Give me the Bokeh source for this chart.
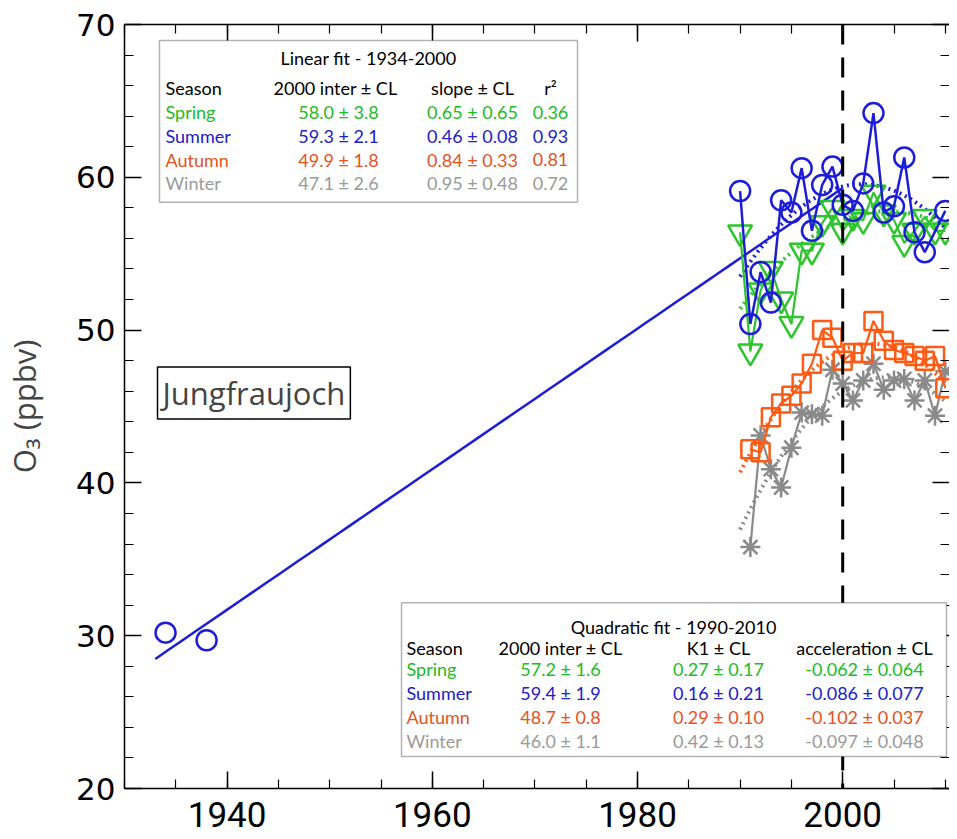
import numpy as np
from bokeh.plotting import figure
from bokeh.models import (Label, BoxAnnotation, Span, LinearAxis, Range1d,
                          SingleIntervalTicker, CustomJSTickFormatter)
from bokeh.embed import file_html
from bokeh.resources import INLINE

# ---------------- data ----------------
early_years = [1934, 1938]
summer_early = [30.2, 29.7]

summer_years = [1990, 1991, 1992, 1993, 1994, 1995, 1996, 1997, 1998, 1999, 2000,
                2001, 2002, 2003, 2004, 2005, 2006, 2007, 2008, 2010]
summer = [59.1, 50.4, 53.8, 51.8, 58.5, 57.7, 60.6, 56.5, 59.5, 60.7, 58.2,
          57.8, 59.6, 64.2, 57.7, 58.1, 61.3, 56.4, 55.1, 57.8]

spring_years = list(range(1990, 2011))
spring = [56.4, 48.6, 52.6, 54.0, 52.0, 50.4, 55.2, 55.2, 57.0, 58.0, 56.5,
          57.4, 57.2, 59.0, 57.7, 57.2, 55.7, 56.5, 57.4, 56.5, 56.5]

autumn_years = list(range(1991, 2011))
autumn = [42.2, 42.0, 44.3, 45.2, 45.7, 46.5, 47.8, 50.0, 49.5, 48.0,
          48.5, 48.5, 50.6, 49.3, 48.7, 48.5, 48.3, 48.0, 48.3, 46.2]

winter_years = list(range(1991, 2011))
winter = [35.8, 43.1, 40.9, 39.7, 42.3, 44.6, 44.5, 44.4, 47.4, 46.5,
          45.4, 46.7, 47.8, 46.1, 46.7, 46.8, 45.4, 46.7, 44.4, 47.3]

seasons = ["Spring", "Summer", "Autumn", "Winter"]
lin_inter = ["58.0 ± 3.8", "59.3 ± 2.1", "49.9 ± 1.8", "47.1 ± 2.6"]
lin_slope = ["0.65 ± 0.65", "0.46 ± 0.08", "0.84 ± 0.33", "0.95 ± 0.48"]
lin_r2 = ["0.36", "0.93", "0.81", "0.72"]
quad_inter = ["57.2 ± 1.6", "59.4 ± 1.9", "48.7 ± 0.8", "46.0 ± 1.1"]
quad_k1 = ["0.27 ± 0.17", "0.16 ± 0.21", "0.29 ± 0.10", "0.42 ± 0.13"]
quad_acc = ["-0.062 ± 0.064", "-0.086 ± 0.077", "-0.102 ± 0.037", "-0.097 ± 0.048"]

# fit parameters (from the tables)
lin_summer_i, lin_summer_s = 59.3, 0.46
q_i = [57.2, 59.4, 48.7, 46.0]
q_k1 = [0.27, 0.16, 0.29, 0.42]
q_acc = [-0.062, -0.086, -0.102, -0.097]

GREEN = "#2cc52c"
BLUE = "#1d1dd8"
ORANGE = "#ff5a14"
GRAY = "#8a8a8a"
T_GREEN = "#22bb22"
T_BLUE = "#2020c8"
T_ORANGE = "#e6521c"
T_GRAY = "#9a9a9a"
colors = [GREEN, BLUE, ORANGE, GRAY]
tcolors = [T_GREEN, T_BLUE, T_ORANGE, T_GRAY]

# ---------------- figure ----------------
PX_L, PX_R, PY_T, PY_B = 122.0, 947.0, 24.0, 789.0
X0 = 1930.0
X1 = X0 + (PX_R - PX_L) / 10.26
Y0, Y1 = 20.0, 70.0
p = figure(width=949, height=839, output_backend="svg", toolbar_location=None,
           x_range=Range1d(X0, X1), y_range=Range1d(Y0, Y1),
           min_border_left=114, min_border_top=24, min_border_bottom=51,
           min_border_right=0, background_fill_color="white",
           border_fill_color="white")
p.outline_line_color = None
p.grid.visible = False

def fx(px):
    return X0 + (px - PX_L) / (PX_R - PX_L) * (X1 - X0)
def fy(py):
    return Y0 + (PY_B - py) / (PY_B - PY_T) * (Y1 - Y0)

blank = CustomJSTickFormatter(code="return ''")

p.xaxis.ticker = SingleIntervalTicker(interval=20, num_minor_ticks=4)
p.yaxis.ticker = SingleIntervalTicker(interval=10, num_minor_ticks=5)

for ax in (p.xaxis[0], p.yaxis[0]):
    ax.major_tick_in = 17
    ax.major_tick_out = 0
    ax.minor_tick_in = 9
    ax.minor_tick_out = 0
    ax.axis_line_width = 1.5
    ax.major_tick_line_width = 1.5
    ax.minor_tick_line_width = 1.2
    ax.axis_line_color = "black"

p.xaxis.major_label_text_font = "Roboto"
p.xaxis.major_label_text_font_size = "35px"
p.xaxis.major_label_standoff = 13
p.xaxis.major_label_text_color = "black"

p.yaxis.major_label_text_font = "DejaVu Sans"
p.yaxis.major_label_text_font_size = "31px"
p.yaxis.major_label_standoff = 9
p.yaxis.major_label_text_color = "black"
p.yaxis.axis_label = "O\u2083 (ppbv)"
p.yaxis.axis_label_text_font = "Open Sans"
p.yaxis.axis_label_text_font_size = "31px"
p.yaxis.axis_label_text_font_style = "normal"
p.yaxis.axis_label_standoff = 28

top = LinearAxis(ticker=SingleIntervalTicker(interval=20, num_minor_ticks=4),
                 formatter=blank, major_label_text_font_size="8px", major_label_standoff=0,
                 major_tick_in=17, major_tick_out=0, minor_tick_in=9, minor_tick_out=0,
                 axis_line_width=1.5, major_tick_line_width=1.5, minor_tick_line_width=1.2)
p.add_layout(top, "above")
right = LinearAxis(ticker=SingleIntervalTicker(interval=10, num_minor_ticks=5),
                   formatter=blank, major_label_text_font_size="8px", major_label_standoff=0,
                   major_tick_in=17, major_tick_out=0, minor_tick_in=9, minor_tick_out=0,
                   axis_line_color=None, major_tick_line_width=1.5, minor_tick_line_width=1.2)
p.add_layout(right, "right")

# vertical dashed line at 2000
p.add_layout(Span(location=2000, dimension="height", line_color="black",
                  line_width=3, line_dash="20 13"))

# linear fit (summer)
lx = np.linspace(1933, 2000, 50)
p.line(lx, lin_summer_i + lin_summer_s * (lx - 2000), line_color=BLUE, line_width=2.5)

# quadratic fits
qx = np.linspace(1990, 2010, 60)
for i in range(4):
    qy = q_i[i] + q_k1[i] * (qx - 2000) + 0.5 * q_acc[i] * (qx - 2000) ** 2
    p.line(qx, qy, line_color=colors[i], line_width=4, line_dash="2 4")

# data series
p.line(winter_years, winter, line_color=GRAY, line_width=2.2)
p.scatter(winter_years, winter, marker="asterisk", size=20, line_color=GRAY, line_width=2.5)

p.line(autumn_years, autumn, line_color=ORANGE, line_width=2.2)
p.scatter(autumn_years, autumn, marker="square", size=18, line_color=ORANGE,
          fill_color=None, line_width=2.5)

p.line(spring_years, spring, line_color=GREEN, line_width=2.2)
p.scatter(spring_years, spring, marker="inverted_triangle", size=24, line_color=GREEN,
          fill_color=None, line_width=2.5)

p.line(summer_years, summer, line_color=BLUE, line_width=2.5)
p.scatter(summer_years, summer, marker="circle", size=20, line_color=BLUE,
          fill_color=None, line_width=2.5)
p.scatter(early_years, summer_early, marker="circle", size=20, line_color=BLUE,
          fill_color=None, line_width=2.5)

# ---------------- station label ----------------
p.add_layout(Label(x=fx(155), y=fy(393), text="Jungfraujoch", text_font="Open Sans",
                   text_font_size="31px", text_baseline="middle", text_align="left",
                   border_line_color="black", border_line_width=1.5,
                   background_fill_color="white", padding=5))

# ---------------- table helpers ----------------
FONT = "Lato"
FS = "18px"
def txt(px, py, s, color="black", align="center"):
    p.add_layout(Label(x=fx(px), y=fy(py), text=s, text_font=FONT, text_font_size=FS,
                       text_color=color, text_align=align, text_baseline="middle"))

# linear fit box
p.add_layout(BoxAnnotation(left=fx(157), right=fx(575), top=fy(40), bottom=fy(202),
                           fill_color="white", fill_alpha=1.0, line_color="black",
                           line_width=1.5, level="annotation"))
txt(366, 58, "Linear fit - 1934-2000")
txt(163, 88, "Season", align="left")
txt(333, 88, "2000 inter ± CL")
txt(470, 88, "slope ± CL")
txt(548, 88, "r²")
for i, s in enumerate(seasons):
    yy = 112 + 23.7 * i
    txt(163, yy, s, tcolors[i], "left")
    txt(336, yy, lin_inter[i], tcolors[i])
    txt(470, yy, lin_slope[i], tcolors[i])
    txt(548, yy, lin_r2[i], tcolors[i])

# quadratic fit box
p.add_layout(BoxAnnotation(left=fx(399), right=fx(944), top=fy(603), bottom=fy(757),
                           fill_color="white", fill_alpha=1.0, line_color="black",
                           line_width=1.5, level="annotation"))
txt(671, 627, "Quadratic fit - 1990-2010")
txt(404, 648, "Season", align="left")
txt(558, 648, "2000 inter ± CL")
txt(716, 648, "K1 ± CL")
txt(862, 648, "acceleration ± CL")
for i, s in enumerate(seasons):
    yy = 669 + 24 * i
    txt(404, yy, s, tcolors[i], "left")
    txt(558, yy, quad_inter[i], tcolors[i])
    txt(716, yy, quad_k1[i], tcolors[i])
    txt(862, yy, quad_acc[i], tcolors[i])

open("out.html", "w").write(file_html(p, INLINE))
